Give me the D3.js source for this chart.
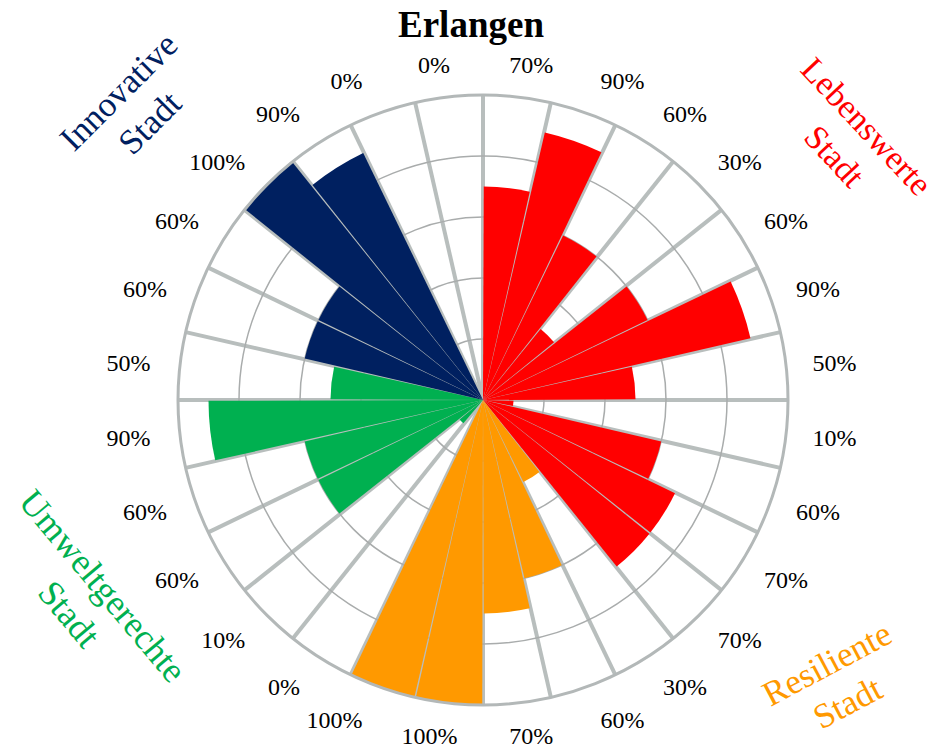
<!DOCTYPE html>
<html>
<head>
<meta charset="utf-8">
<script src="https://cdn.jsdelivr.net/npm/d3@7"></script>
<style>
  body { margin: 0; background: #fff; }
  text { font-family: "Liberation Serif", "Times New Roman", serif; }
</style>
</head>
<body>
<div id="chart"></div>
<script>
// Erlangen - share per indicator, grouped by city profile
const groups = ["Lebenswerte Stadt", "Resiliente Stadt", "Umweltgerechte Stadt", "Innovative Stadt"];
const groupColors = ["#ff0000", "#ff9900", "#00b050", "#002060"];
const groupOf = [0,0,0,0,0,0,0,0,0,0,0, 1,1,1,1,1, 2,2,2,2,2,2, 3,3,3,3,3,3];
const values = [70, 90, 60, 30, 60, 90, 50, 10, 60, 70, 70,
                30, 60, 70, 100, 100,
                0, 10, 60, 60, 90, 50,
                60, 60, 100, 90, 0, 0];
const ringTicks = [20, 40, 60, 80, 100];

const width = 942, height = 751;
const cx = 483, cy = 400, R = 305;

const svg = d3.select("#chart")
    .append("svg")
    .attr("width", width)
    .attr("height", height);

const g = svg.append("g").attr("transform", `translate(${cx},${cy})`);

// scales
const x = d3.scaleBand()
    .domain(d3.range(values.length))
    .range([0, 2 * Math.PI])
    .paddingInner(0);

const r = d3.scaleLinear().domain([0, 100]).range([0, R]);

const pt = (a, rad) => [rad * Math.sin(a), -rad * Math.cos(a)];

// spokes
g.append("g")
    .selectAll("line")
    .data(d3.range(values.length))
    .enter().append("line")
    .attr("x1", 0).attr("y1", 0)
    .attr("x2", d => pt(x(d), R)[0])
    .attr("y2", d => pt(x(d), R)[1])
    .attr("stroke", "#b8bebd")
    .attr("stroke-width", 4);

// inner rings
g.append("g")
    .selectAll("circle")
    .data(ringTicks.slice(0, -1))
    .enter().append("circle")
    .attr("r", d => r(d))
    .attr("fill", "none")
    .attr("stroke", "#a9acac")
    .attr("stroke-width", 1.5);

// bars
const arc = d3.arc()
    .innerRadius(0)
    .outerRadius(d => r(d.v))
    .startAngle(d => x(d.i))
    .endAngle(d => x(d.i) + x.bandwidth())
    .padAngle(0.005)
    .padRadius(R);

g.append("g")
    .selectAll("path")
    .data(values.map((v, i) => ({ v, i })).filter(d => d.v > 0))
    .enter().append("path")
    .attr("d", arc)
    .attr("fill", d => groupColors[groupOf[d.i]]);

// outer ring
g.append("circle")
    .attr("r", r(100))
    .attr("fill", "none")
    .attr("stroke", "#b3b8b8")
    .attr("stroke-width", 3);

// percent labels around the circle
const lab = g.append("g")
    .selectAll("text")
    .data(values.map((v, i) => ({ v, i })))
    .enter().append("text")
    .attr("text-anchor", "middle")
    .style("font-size", "24px")
    .attr("fill", "#000")
    .text(d => d.v + "%");

lab.each(function (d) {
    const a = x(d.i) + x.bandwidth() / 2;
    const w = this.getComputedTextLength();
    const s = Math.sin(a), c = Math.cos(a);
    const sg = s < 0 ? -1 : 1;
    const k = Math.max(-1, Math.min(1, s / 0.3));
    const bump = 7 * Math.max(0, 1 - Math.abs(Math.abs(s) - 0.33) / 0.35);
    let px = 330 * s + (w / 2 + 1.5) * k + sg * bump;
    if (s < -0.05) px -= 3;
    const py = -338 * c;
    d3.select(this).attr("x", px).attr("y", py + 8.5);
});

// title
svg.append("text")
    .attr("x", width / 2)
    .attr("y", 37)
    .attr("text-anchor", "middle")
    .style("font-size", "37px")
    .style("font-weight", "bold")
    .text("Erlangen");

// group labels
const groupLabels = [
    { i: 0, x: 851, y: 141, rot: 47, size: 34 },
    { i: 1, x: 837, y: 683, rot: -28, size: 35 },
    { i: 2, x: 86, y: 600, rot: 50, size: 36 },
    { i: 3, x: 134, y: 107, rot: -45, size: 35 }
];

groupLabels.forEach(d => {
    const t = svg.append("text")
        .attr("transform", `translate(${d.x},${d.y}) rotate(${d.rot})`)
        .attr("text-anchor", "middle")
        .style("font-size", d.size + "px")
        .attr("fill", groupColors[d.i]);
    const words = groups[d.i].split(" ");
    words.forEach((wd, j) => {
        t.append("tspan")
            .attr("x", 0)
            .attr("y", (j - (words.length - 1) / 2) * 44 + 12)
            .text(wd);
    });
});
</script>
</body>
</html>
